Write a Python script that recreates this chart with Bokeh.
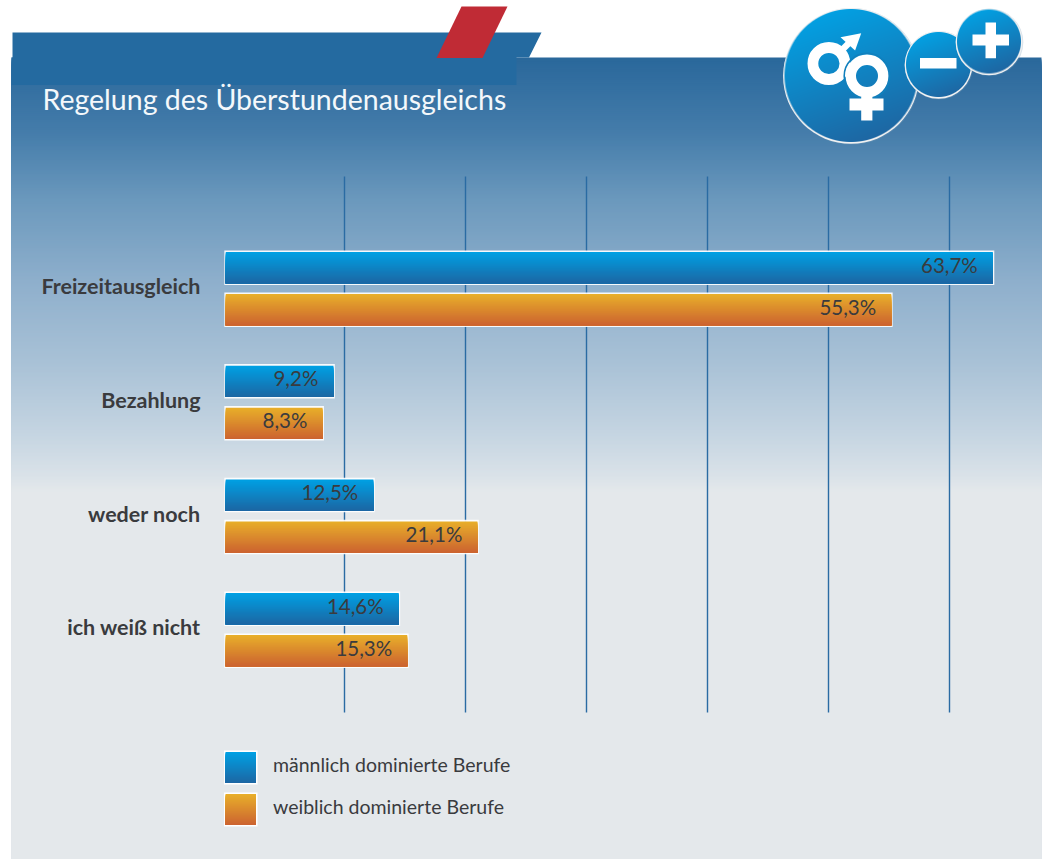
import numpy as np
from bokeh.core.properties import value
from bokeh.embed import file_html
from bokeh.models import Range1d
from bokeh.plotting import figure
from bokeh.resources import INLINE

TITLE = "Regelung des Überstundenausgleichs"
CATEGORIES = ["Freizeitausgleich", "Bezahlung", "weder noch", "ich weiß nicht"]
MALE_DOMINATED = [63.7, 9.2, 12.5, 14.6]
FEMALE_DOMINATED = [55.3, 8.3, 21.1, 15.3]
SERIES_NAMES = ["männlich dominierte Berufe", "weiblich dominierte Berufe"]
GRID_TICKS = [10, 20, 30, 40, 50, 60]

W, H = 1046, 859
FONT = value("Lato")
TEXT_DARK = "#3a3b3e"
BLUE_STOPS = ((0, 160, 227), (28, 103, 164))
ORANGE_STOPS = ((232, 174, 42), (204, 100, 48))

# Panel background colours, top to bottom (pixel row, rgb)
BG_ROWS = [57, 130, 200, 280, 360, 430, 472, 490, 859]
BG_COLS = [(42, 104, 155), (68, 124, 170), (108, 153, 189), (142, 175, 204),
           (168, 193, 214), (196, 212, 225), (216, 225, 232), (228, 232, 235), (228, 232, 235)]

p = figure(width=W, height=H, output_backend="svg", toolbar_location=None,
           x_range=Range1d(0, W), y_range=Range1d(0, H), min_border=0,
           x_axis_type=None, y_axis_type=None, outline_line_color=None)
p.grid.visible = False
p.background_fill_color = "white"
p.border_fill_color = "white"

# Value scale: 121 px per 10 %, zero at x = 223. Row scale: one category = 113.67 px.
PX_PER_PCT = 12.1
ROW_PX = 113.67
ROW0_PX = 288.2
ZERO_PX = 223.0
p.extra_x_ranges["pct"] = Range1d(-ZERO_PX / PX_PER_PCT, (W - ZERO_PX) / PX_PER_PCT)
p.extra_y_ranges["row"] = Range1d((H - ROW0_PX) / ROW_PX, -ROW0_PX / ROW_PX)


def hexc(c):
    return "#%02x%02x%02x" % tuple(int(round(v)) for v in c)


def mix(stops, t):
    a, b = np.array(stops[0], float), np.array(stops[1], float)
    return hexc(a + (b - a) * t)


def Y(py):
    return H - py


# Panel gradient, painted downward so each band covers the rest of the panel
rows = np.arange(57, 859, 2)
bands = np.stack([np.interp(rows, BG_ROWS, [c[i] for c in BG_COLS]) for i in range(3)], axis=1)
p.quad(left=11, right=1041, top=[Y(r) for r in rows], bottom=Y(858.5),
       fill_color=[hexc(c) for c in bands], line_color=None)

# Header tab, band and red accent
p.patch([12, 541, 528.5, 516, 516, 11, 11, 12],
        [Y(32), Y(32), Y(57), Y(57), Y(84.5), Y(84.5), Y(57), Y(57)],
        fill_color="#246aa0", line_color=None)
p.patch([461, 507, 482, 436], [Y(6), Y(6), Y(57.5), Y(57.5)], fill_color="#c02b35", line_color=None)
p.text(x=[42], y=[Y(98)], text=[TITLE], text_color="#f4f8fb", text_font=FONT,
       text_font_size="28.5px", text_baseline="alphabetic")

# Vertical grid lines behind the bars
p.segment(x0=GRID_TICKS, x1=GRID_TICKS, y0=Y(176), y1=Y(712), x_range_name="pct",
          line_color="#2a6ba3", line_width=1.4)


def gradient_bar(v, row_center, row_h, stops):
    """White-framed bar from 0 to v, shaded from top to bottom."""
    top = row_center - row_h / 2
    bottom = row_center + row_h / 2
    start = 0.07
    p.quad(left=start, right=v, top=top, bottom=bottom, x_range_name="pct", y_range_name="row",
           fill_color="white", line_color=None, fill_alpha=0.92)
    inset_x = 1.4 / PX_PER_PCT
    inset_y = 1.6 / ROW_PX
    n = 32
    edges = np.linspace(top + inset_y, bottom - inset_y, n + 1)[:-1]
    p.quad(left=start + inset_x, right=v - inset_x, top=edges, bottom=bottom - inset_y,
           x_range_name="pct", y_range_name="row",
           fill_color=[mix(stops, i / (n - 1)) for i in range(n)], line_color=None)


BAR_H = 34.5 / ROW_PX
BAR_OFF = 21.0 / ROW_PX
for i, cat in enumerate(CATEGORIES):
    gradient_bar(MALE_DOMINATED[i], i - BAR_OFF, BAR_H, BLUE_STOPS)
    gradient_bar(FEMALE_DOMINATED[i], i + BAR_OFF, BAR_H, ORANGE_STOPS)

# Value labels inside the bar ends
fmt = lambda v: f"{v:.1f}%".replace(".", ",")
idx = np.arange(len(CATEGORIES))
p.text(x=MALE_DOMINATED, y=idx - BAR_OFF, text=[fmt(v) for v in MALE_DOMINATED],
       x_range_name="pct", y_range_name="row", text_align="right", text_baseline="middle",
       x_offset=-16.5, y_offset=-3, text_color=TEXT_DARK, text_font=FONT, text_font_size="20.5px")
p.text(x=FEMALE_DOMINATED, y=idx + BAR_OFF, text=[fmt(v) for v in FEMALE_DOMINATED],
       x_range_name="pct", y_range_name="row", text_align="right", text_baseline="middle",
       x_offset=-16.5, y_offset=-3, text_color=TEXT_DARK, text_font=FONT, text_font_size="20.5px")

# Category labels
p.text(x=0, y=idx - 2.5 / ROW_PX, text=CATEGORIES, x_range_name="pct", y_range_name="row",
       x_offset=-23, text_align="right", text_baseline="middle", text_color=TEXT_DARK,
       text_font=FONT, text_font_style="bold", text_font_size="21.5px")


# Legend swatches
def swatch(py, stops):
    p.quad(left=223.5, right=257, top=Y(py), bottom=Y(py + 34), fill_color="white", line_color=None)
    n = 31
    edges = np.linspace(py + 1.5, py + 32.5, n + 1)[:-1]
    p.quad(left=225, right=255.5, top=[Y(e) for e in edges], bottom=Y(py + 32.5),
           fill_color=[mix(stops, i / (n - 1)) for i in range(n)], line_color=None)


swatch(750, BLUE_STOPS)
swatch(792, ORANGE_STOPS)
p.text(x=[272.5, 272.5], y=[Y(763.5), Y(805.5)], text=SERIES_NAMES, text_baseline="middle",
       text_color=TEXT_DARK, text_font=FONT, text_font_size="19.5px")


# Round badges: diagonal blue shading with a pale rim
def badge(cx, cy, r):
    p.circle(x=[cx + 0.5], y=[Y(cy + 0.8)], radius=r + 1.8, fill_color="#7f9fba", fill_alpha=0.3, line_color=None)
    p.circle(x=[cx], y=[Y(cy + 0.4)], radius=r + 1.4, fill_color="#f0f1f2", line_color=None)
    s = int(2 * r) + 2
    yy, xx = np.mgrid[0:s, 0:s]
    dx, dy = xx + 0.5 - s / 2, yy + 0.5 - s / 2
    t = np.clip(((dx * 0.35 + dy * 0.94) / r + 1) / 2, 0, 1)
    a, b = np.array((3, 160, 226.0)), np.array((30, 103, 163.0))
    alpha = np.clip(r - np.hypot(dx, dy) + 0.5, 0, 1)
    img = np.zeros((s, s), dtype=np.uint32)
    view = img.view(dtype=np.uint8).reshape((s, s, 4))
    for k in range(3):
        view[:, :, k] = (a[k] + (b[k] - a[k]) * t).astype(np.uint8)
    view[:, :, 3] = (alpha * 255).astype(np.uint8)
    p.image_rgba(image=[img[::-1]], x=cx - s / 2, y=Y(cy + s / 2), dw=s, dh=s)


WHITE = "white"
badge(850.5, 75, 66.5)
# Male symbol
p.circle(x=[828.4], y=[Y(63)], radius=16, fill_color=None, line_color=WHITE, line_width=10.8)
p.line([841, 849], [Y(50), Y(42)], line_color=WHITE, line_width=6.5)
p.patch([840, 860.7, 854.6], [Y(36.7), Y(32.7), Y(50)], fill_color=WHITE, line_color=None)
# Female symbol with a thin separating outline
p.circle(x=[866.5], y=[Y(75.5)], radius=22.8, fill_color=None, line_color="#1180bd", line_width=1.6)
p.circle(x=[866.5], y=[Y(75.5)], radius=16.2, fill_color=None, line_color=WHITE, line_width=10.4)
p.quad(left=860.7, right=871.9, top=Y(96), bottom=Y(120), fill_color=WHITE, line_color=None)
p.quad(left=849, right=883, top=Y(98), bottom=Y(110), fill_color=WHITE, line_color=None)
# Minus badge
badge(938, 64, 32.5)
p.quad(left=919.5, right=956, top=Y(57.5), bottom=Y(68), fill_color=WHITE, line_color=None)
# Plus badge
badge(988.5, 41, 32)
p.quad(left=972, right=1008.5, top=Y(34), bottom=Y(45), fill_color=WHITE, line_color=None)
p.quad(left=985, right=995.5, top=Y(22), bottom=Y(57.7), fill_color=WHITE, line_color=None)

open("out.html", "w").write(file_html(p, INLINE))
